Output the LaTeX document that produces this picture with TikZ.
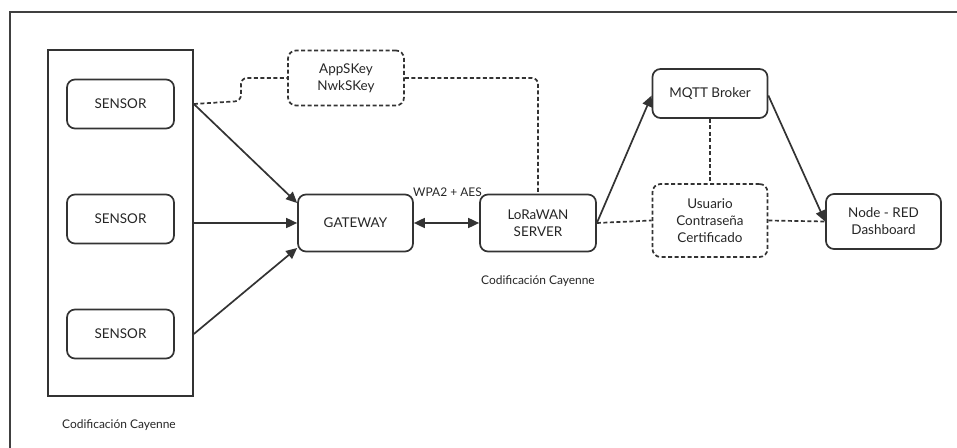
\documentclass[tikz,border=0pt]{standalone}
\usepackage{fontspec}
\setmainfont{Lato}
\usetikzlibrary{arrows.meta}

\tikzset{
  box/.style={draw=black!80,line width=1.7bp,rounded corners=8bp,align=center,
    font=\fontsize{13.5}{17}\selectfont,text=black!85},
  keybox/.style={box,dash pattern=on 4bp off 2.5bp},
  link/.style={draw=black!80,line width=1.7bp,-{Triangle[length=11bp,width=10bp]}},
  dlink/.style={draw=black!80,line width=1.7bp,dash pattern=on 4bp off 2.5bp},
  note/.style={font=\fontsize{12}{14}\selectfont,text=black!85}
}

\begin{document}
\begin{tikzpicture}[x=1bp,y=-1bp]

  \useasboundingbox[fill=white] (0,0) rectangle (957,448);

  % outer frame (runs off the page right and bottom)
  \draw[black!75,line width=1.6bp] (957,12) -| (10,448);

  % sensor group
  \node[draw=black!80,line width=1.7bp,minimum width=145bp,minimum height=346bp] (sensors) at (120.5,223) {};
  \node[box,minimum width=107bp,minimum height=49bp] (s1) at (120.5,104) {SENSOR};
  \node[box,minimum width=107bp,minimum height=49bp] (s2) at (120.5,219) {SENSOR};
  \node[box,minimum width=107bp,minimum height=49bp] (s3) at (120.5,334) {SENSOR};
  \node[note] (cod1) at (119,425) {Codificación Cayenne};

  \node[box,minimum width=115bp,minimum height=57bp] (gw) at (355.5,223) {GATEWAY};
  \node[keybox,minimum width=116bp,minimum height=55bp] (keys) at (346,78) {AppSKey\\NwkSKey};
  \node[box,minimum width=116bp,minimum height=57bp] (lora) at (538,223) {LoRaWAN\\SERVER};
  \node[note] (cod2) at (538,281) {Codificación Cayenne};
  \node[box,minimum width=115bp,minimum height=49bp] (mqtt) at (710,93.5) {MQTT Broker};
  \node[keybox,minimum width=115bp,minimum height=73bp] (user) at (710,220.5) {Usuario\\Contraseña\\Certificado};
  \node[box,minimum width=115bp,minimum height=55bp] (red) at (883.5,221.5) {Node - RED\\Dashboard};

  % sensors to gateway
  \draw[link] (sensors.east |- s1) -- ([yshift=20bp]gw.west);
  \draw[link] (sensors.east |- gw.west) -- (gw.west);
  \draw[link] (sensors.east |- s3) -- ([yshift=-25bp]gw.west);

  % gateway to server
  \draw[link,{Triangle[length=11bp,width=10bp]}-{Triangle[length=11bp,width=10bp]}] (gw.east) -- node[note,above=22bp,xshift=1bp] (wpa) {WPA2 + AES} (lora.west);

  % keys
  \draw[dlink,rounded corners=6bp] (sensors.east |- s1) -- (241,101) -- (241,78) -- (keys.west);
  \draw[dlink,rounded corners=6bp] (keys.east) -- (lora.north |- keys.east) -- (lora.north);

  % server, broker and dashboard
  \draw[link] (lora.east) -- ([yshift=-2bp]mqtt.west);
  \draw[link] ([yshift=-2bp]mqtt.east) -- (red.west);
  \draw[dlink] (mqtt.south) -- (user.north);
  \draw[dlink] (lora.east) -- (user.west);
  \draw[dlink] (user.east) -- (red.west);

\end{tikzpicture}
\end{document}
